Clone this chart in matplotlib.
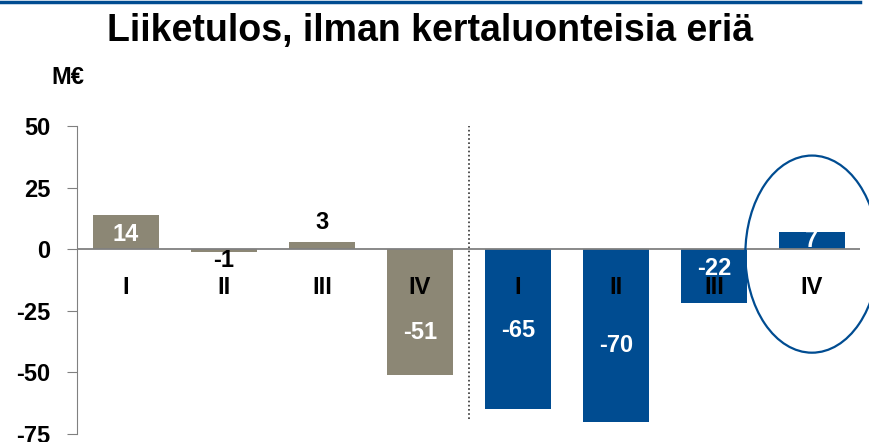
import matplotlib
matplotlib.use("Agg")
import matplotlib.pyplot as plt
from matplotlib.patches import Ellipse
from matplotlib.lines import Line2D

# data
quarters = ["I", "II", "III", "IV", "I", "II", "III", "IV"]
values = [14, -1, 3, -51, -65, -70, -22, 7]
years = ["prev", "prev", "prev", "prev", "curr", "curr", "curr", "curr"]
yticks = [50, 25, 0, -25, -50, -75]

# layout for the value labels (y in data units) and their colours
label_y = [6, -4.5, 11, -34, -33, -39, -7.7, 3.7]
label_col = ["white", "black", "black", "white", "white", "white", "white", "white"]

GREY = "#8c8775"
BLUE = "#004c91"

plt.rcParams["font.family"] = ["Liberation Sans", "DejaVu Sans"]

fig = plt.figure(figsize=(8.7, 4.42), dpi=100)
ax = fig.add_axes([77 / 870, 8 / 442, 783 / 870, 308 / 442])

x = list(range(len(values)))
colors = [GREY if y == "prev" else BLUE for y in years]
ax.bar(x, values, width=0.67, color=colors, zorder=2)

ax.axhline(0, color="#808080", lw=1.3, zorder=3)
ax.plot([3.5, 3.5], [-69, 50], color="#333333", lw=1.2, ls=(0, (1, 1.5)),
        zorder=1)
ax.set_xlim(-0.5, 7.49)
ax.set_ylim(-75, 50)

for xi, v, ly, c in zip(x, values, label_y, label_col):
    ax.text(xi, ly, str(v), ha="center", va="center", fontsize=17,
            fontweight="bold", color=c, zorder=5)
for xi, q in zip(x, quarters):
    ax.text(xi, -15.5, q, ha="center", va="center", fontsize=17,
            fontweight="bold", color="black", zorder=4)

ell = Ellipse((7, -2), 1.36, 80, fill=False, edgecolor=BLUE, lw=1.6,
              clip_on=False, zorder=6)
ax.add_patch(ell)

ax.set_yticks(yticks)
ax.set_yticklabels([str(t) for t in yticks], fontsize=17, fontweight="bold")
ax.set_xticks([])
for s in ["top", "right", "bottom"]:
    ax.spines[s].set_visible(False)
ax.spines["left"].set_color("#808080")
ax.tick_params(axis="y", direction="out", length=7, color="#808080", pad=12)

fig.text(430 / 870, 1 - 31 / 442, "Liiketulos, ilman kertaluonteisia eriä",
         ha="center", va="center", fontsize=27, fontweight="bold")
fig.text(68 / 870, 1 - 78 / 442, "M€", ha="center", va="center",
         fontsize=17, fontweight="bold")
fig.add_artist(Line2D([0, 860 / 870], [1 - 1.5 / 442, 1 - 1.5 / 442],
                      transform=fig.transFigure, color=BLUE, lw=2.5))

fig.savefig("out.png", dpi=100)
